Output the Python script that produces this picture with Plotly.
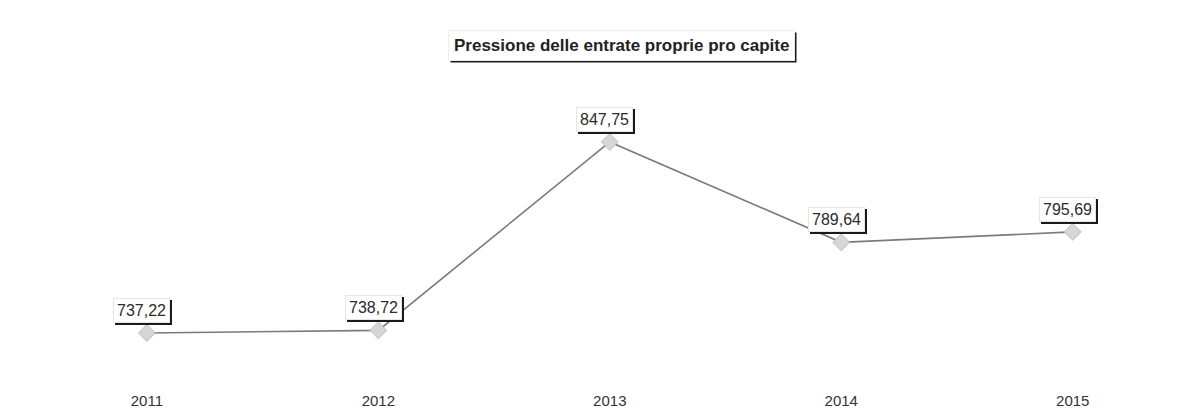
import plotly.graph_objects as go

years = [2011, 2012, 2013, 2014, 2015]
values = [737.22, 738.72, 847.75, 789.64, 795.69]
tick_labels = ["2011", "2012", "2013", "2014", "2015"]
title_text = "Pressione delle entrate proprie pro capite"

font_family = "Liberation Sans, Arial, sans-serif"

fig = go.Figure()
fig.add_trace(go.Scatter(
    x=years, y=values, mode="lines+markers",
    line=dict(color="#7a7a7a", width=1.6),
    marker=dict(symbol="diamond", size=13, color="#d6d6d6",
                line=dict(color="#bdbdbd", width=1)),
    hoverinfo="skip", showlegend=False,
))

annotations = []
for x, v in zip(years, values):
    txt = f"{v:.2f}".replace(".", ",")
    # shadow
    annotations.append(dict(
        x=x, y=v, xref="x", yref="y", text=txt, showarrow=False,
        yanchor="bottom", xshift=-3, yshift=8,
        font=dict(family=font_family, size=16, color="#1a1a1a"),
        bgcolor="#1a1a1a", borderpad=3, bordercolor="#1a1a1a", borderwidth=1,
    ))
    annotations.append(dict(
        x=x, y=v, xref="x", yref="y", text=txt, showarrow=False,
        yanchor="bottom", xshift=-5, yshift=10,
        font=dict(family=font_family, size=16, color="#2b2b2b"),
        bgcolor="white", borderpad=3, bordercolor="#e6e6e6", borderwidth=1,
    ))

# title with shadow box
annotations.append(dict(
    x=0.512, y=1.196, xref="paper", yref="paper", yanchor="middle",
    text=f"<b>{title_text}</b>", showarrow=False,
    font=dict(family=font_family, size=17, color="#1a1a1a"),
    bgcolor="#1a1a1a", borderpad=5, xshift=2, yshift=-2,
))
annotations.append(dict(
    x=0.512, y=1.196, xref="paper", yref="paper", yanchor="middle",
    text=f"<b>{title_text}</b>", showarrow=False,
    font=dict(family=font_family, size=17, color="#222222"),
    bgcolor="white", borderpad=5, bordercolor="#eeeeee", borderwidth=1,
))

fig.update_layout(
    width=1199, height=419,
    margin=dict(l=0, r=0, t=92, b=47),
    paper_bgcolor="white", plot_bgcolor="white",
    annotations=annotations,
    xaxis=dict(
        range=[2010.40, 2015.58], tickmode="array", tickvals=years,
        ticktext=tick_labels, showgrid=False, zeroline=False, showline=False,
        ticks="", ticklabelstandoff=10,
        tickfont=dict(family=font_family, size=15, color="#333333"),
    ),
    yaxis=dict(range=[710, 872], visible=False),
    font=dict(family=font_family),
)

fig.write_html("out.html")
